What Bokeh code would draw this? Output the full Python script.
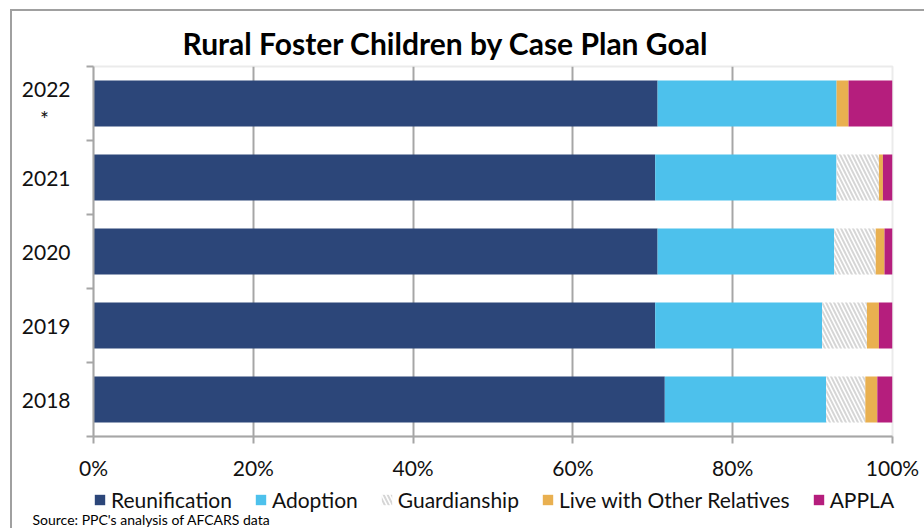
from bokeh.plotting import figure
from bokeh.layouts import column
from bokeh.models import (ColumnDataSource, Range1d, FixedTicker, Legend, LegendItem, Title,
                          Label, InlineStyleSheet)
from bokeh.embed import file_html
from bokeh.resources import INLINE

# ---- data (percent of rural foster children by case plan goal) ----
years = ["2018", "2019", "2020", "2021", "2022"]
year_labels = ["2018", "2019", "2020", "2021", "2022\n*\u00a0\u00a0\u00a0\u00a0"]
series = ["Reunification", "Adoption", "Guardianship", "Live with Other Relatives", "APPLA"]
reunification = [71.5, 70.3, 70.6, 70.3, 70.6]
adoption = [20.2, 20.9, 22.1, 22.7, 22.4]
guardianship = [4.9, 5.6, 5.2, 5.3, 0.0]
live_with_relatives = [1.5, 1.5, 1.1, 0.5, 1.5]
appla = [1.9, 1.7, 1.0, 1.2, 5.5]
x_ticks = [0, 20, 40, 60, 80, 100]
x_tick_labels = ["0%", "20%", "40%", "60%", "80%", "100%"]
title_text = "Rural Foster Children by Case Plan Goal"
source_text = "Source: PPC's analysis of AFCARS data"

colors = ["#2c4679", "#4dc1ec", "#ffffff", "#e9b050", "#b51e7d"]
FONT = "Lato"
TXT = "#111111"
GRAY = "#a6a6a6"

keys = ["reunification", "adoption", "guardianship", "live", "appla"]
y_pos = [i + 0.5 for i in range(len(years))]
src = ColumnDataSource(dict(y=y_pos, reunification=reunification, adoption=adoption,
                            guardianship=guardianship, live=live_with_relatives, appla=appla))

HATCH = dict(hatch_pattern="\\", hatch_color="#d6d6d6", hatch_weight=2, hatch_scale=8)

# ---------------- main chart ----------------
p = figure(width=924, height=482, output_backend="svg", toolbar_location=None,
           x_range=Range1d(0, 100), y_range=Range1d(0, len(years)),
           min_border_left=93, min_border_right=32, min_border_top=66, min_border_bottom=43)
p.frame_align = False
p.background_fill_color = "white"
p.border_fill_color = "white"
p.outline_line_color = "#ebebeb"
p.outline_line_width = 2

renderers = p.hbar_stack(keys, y="y", height=0.62, source=src, color=colors, line_color=None)
g = renderers[2].glyph
g.fill_color = "white"
for k, v in HATCH.items():
    setattr(g, k, v)

# x axis
p.xaxis.ticker = FixedTicker(ticks=x_ticks)
p.xaxis.major_label_overrides = {t: l for t, l in zip(x_ticks, x_tick_labels)}
p.xaxis.axis_line_color = GRAY
p.xaxis.axis_line_width = 2
p.xaxis.major_tick_line_color = GRAY
p.xaxis.major_tick_line_width = 2
p.xaxis.major_tick_out = 7
p.xaxis.major_tick_in = 0
p.xaxis.minor_tick_line_color = None
p.xaxis.major_label_standoff = 11
p.xaxis.major_label_text_font = FONT
p.xaxis.major_label_text_font_size = "21px"
p.xaxis.major_label_text_color = TXT

# y axis: labels at band centres, ticks at band boundaries
p.yaxis.ticker = FixedTicker(ticks=y_pos, minor_ticks=list(range(len(years) + 1)))
p.yaxis.major_label_overrides = {yv: l for yv, l in zip(y_pos, year_labels)}
p.yaxis.axis_line_color = GRAY
p.yaxis.axis_line_width = 2
p.yaxis.major_tick_out = 0
p.yaxis.major_tick_in = 0
p.yaxis.minor_tick_out = 7
p.yaxis.minor_tick_in = 0
p.yaxis.minor_tick_line_color = GRAY
p.yaxis.minor_tick_line_width = 2
p.yaxis.major_label_standoff = 16
p.yaxis.major_label_text_font = FONT
p.yaxis.major_label_text_font_size = "21px"
p.yaxis.major_label_text_color = TXT

p.xgrid.ticker = FixedTicker(ticks=[20, 40, 60, 80])
p.xgrid.grid_line_color = GRAY
p.xgrid.grid_line_width = 2
p.ygrid.grid_line_color = None

p.add_layout(Title(text=title_text, align="left", offset=89, standoff=12,
                   text_font=FONT, text_font_size="30px", text_font_style="bold",
                   text_color="#000000"), "above")

# ---------------- legend + source strip ----------------
q = figure(width=924, height=46, output_backend="svg", toolbar_location=None,
           x_range=Range1d(0, 924), y_range=Range1d(0, 46),
           x_axis_location=None, y_axis_location=None,
           min_border_left=0, min_border_right=0, min_border_top=0, min_border_bottom=0)
q.frame_align = False
q.background_fill_color = "white"
q.border_fill_color = "white"
q.outline_line_color = None
q.grid.visible = False

# legend proxies: zero-width bars outside the visible range, styled like the series
proxies = []
for s, c in zip(series, colors):
    kw = dict(HATCH) if s == "Guardianship" else {}
    proxies.append(q.hbar(y=[-10], left=[0], right=[0], height=1,
                          fill_color=c, line_color=None, **kw))

legend = Legend(items=[LegendItem(label=s, renderers=[r]) for s, r in zip(series, proxies)],
                orientation="horizontal", location=(93, 16),
                glyph_width=13, glyph_height=13, label_standoff=5, spacing=22,
                padding=0, margin=0, border_line_color=None, background_fill_alpha=0,
                label_text_font=FONT, label_text_font_size="21px", label_text_color=TXT)
q.add_layout(legend)

q.add_layout(Label(x=32, y=9, text=source_text, text_align="left", text_baseline="middle",
                   text_font=FONT, text_font_size="14px", text_color="#000000"))

layout = column(p, q, spacing=0)
# chart-area border (left and top edges), drawn as a decoration over the canvas
layout.stylesheets = [InlineStyleSheet(css="""
:host::before {
  content: ""; position: absolute; left: 10px; top: 9px; width: 914px; height: 519px;
  border-left: 2px solid #a0a0a0; border-top: 2px solid #a0a0a0;
  box-sizing: border-box; pointer-events: none; z-index: 100;
}
""")]

open("out.html", "w").write(file_html(layout, INLINE))
